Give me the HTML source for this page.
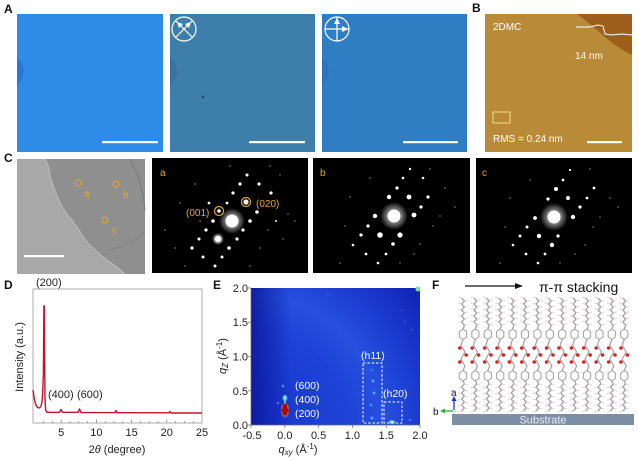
<!DOCTYPE html>
<html><head><meta charset="utf-8"><style>
html,body{margin:0;padding:0;background:#fff;}
svg{display:block;font-family:"Liberation Sans",Arial,sans-serif;}
</style></head><body>
<svg width="639" height="461" viewBox="0 0 639 461" xmlns="http://www.w3.org/2000/svg">
<defs>
<radialGradient id="glow"><stop offset="0" stop-color="#fff"/><stop offset="0.45" stop-color="#fff" stop-opacity="0.9"/><stop offset="1" stop-color="#fff" stop-opacity="0"/></radialGradient>
<radialGradient id="sglow"><stop offset="0" stop-color="#fff"/><stop offset="0.5" stop-color="#fff" stop-opacity="0.7"/><stop offset="1" stop-color="#fff" stop-opacity="0"/></radialGradient>
<radialGradient id="ebg" cx="251" cy="425" r="210" gradientUnits="userSpaceOnUse">
<stop offset="0" stop-color="#1834cc"/><stop offset="0.45" stop-color="#1e42d6"/><stop offset="0.62" stop-color="#2650de"/><stop offset="0.8" stop-color="#1b3bcf"/><stop offset="1" stop-color="#1226b8"/></radialGradient>
<linearGradient id="eleft" x1="0" x2="1" y1="0" y2="0"><stop offset="0" stop-color="#0a1496" stop-opacity="0.8"/><stop offset="1" stop-color="#0a1496" stop-opacity="0"/></linearGradient>
<radialGradient id="redspot"><stop offset="0" stop-color="#8a0000"/><stop offset="0.5" stop-color="#c01000"/><stop offset="0.8" stop-color="#ff8000" stop-opacity="0.6"/><stop offset="1" stop-color="#30c0ff" stop-opacity="0"/></radialGradient>
<radialGradient id="cyspot"><stop offset="0" stop-color="#ffe060"/><stop offset="0.5" stop-color="#60e0ff"/><stop offset="1" stop-color="#30a0ff" stop-opacity="0"/></radialGradient>
<radialGradient id="lbspot"><stop offset="0" stop-color="#a0f0ff"/><stop offset="0.5" stop-color="#4090ff" stop-opacity="0.7"/><stop offset="1" stop-color="#3070ff" stop-opacity="0"/></radialGradient>
<g id="mol">
<polyline points="-1.5,298 1.5,301 -1.5,304 1.5,307 -1.5,310 1.5,313 -1.5,316 1.5,319 -1.5,322 1.5,325 0,329" fill="none" stroke="#a2a2a2" stroke-width="1.3"/>
<path d="M-1.5,298l-3.5,-1M1.5,301l3.5,-1M-1.5,304l-3.5,-1M1.5,307l3.5,-1M-1.5,310l-3.5,-1M1.5,313l3.5,-1M-1.5,316l-3.5,-1M1.5,319l3.5,-1M-1.5,322l-3.5,-1M1.5,325l3.5,-1" stroke="#e2d6d6" stroke-width="1"/>
<polygon points="0,329 3.6,331.5 3.6,337 0,339.5 -3.6,337 -3.6,331.5" fill="none" stroke="#a8a8a8" stroke-width="1.1"/>
<polyline points="0,339.5 -2,345 2,352 -2,359 2,366 0,370.5" fill="none" stroke="#a2a2a2" stroke-width="1.2"/>
<circle cx="-3.2" cy="348" r="1.8" fill="#d42424"/>
<circle cx="3.2" cy="355" r="1.8" fill="#d42424"/>
<circle cx="-3.2" cy="362" r="1.8" fill="#d42424"/>
<polygon points="0,370.5 3.6,373 3.6,378.5 0,381 -3.6,378.5 -3.6,373" fill="none" stroke="#a8a8a8" stroke-width="1.1"/>
<polyline points="0,381 1.5,384 -1.5,387 1.5,390 -1.5,393 1.5,396 -1.5,399 1.5,402 -1.5,405 1.5,408 -1.5,411" fill="none" stroke="#a2a2a2" stroke-width="1.3"/>
<path d="M1.5,384l3.5,1M-1.5,387l-3.5,1M1.5,390l3.5,1M-1.5,393l-3.5,1M1.5,396l3.5,1M-1.5,399l-3.5,1M1.5,402l3.5,1M-1.5,405l-3.5,1M1.5,408l3.5,1M-1.5,411l-3.5,1" stroke="#e2d6d6" stroke-width="1"/>
</g>
</defs>

<!-- Panel labels -->
<g font-weight="bold" font-size="12" fill="#111">
<text x="4" y="13">A</text>
<text x="472" y="12">B</text>
<text x="4" y="162">C</text>
<text x="4" y="289">D</text>
<text x="213" y="289">E</text>
<text x="432" y="289">F</text>
</g>

<!-- Panel A -->
<rect x="17" y="14" width="146" height="138" fill="#2e8ce8"/>
<path d="M17,57 l5,6 l2,8 l-2,8 l-5,7z" fill="#2a76d6"/>
<rect x="102" y="141" width="56" height="2.2" fill="#fff"/>
<rect x="170" y="14" width="145" height="138" fill="#3e7eaa"/>
<path d="M170,57 l5,6 l2,8 l-2,8 l-5,7z" fill="#3a70a4"/>
<circle cx="203" cy="97" r="1.2" fill="#1e4a6a"/>
<rect x="249" y="141" width="56" height="2.2" fill="#fff"/>
<g stroke="#fff" stroke-width="1.2" fill="none">
<circle cx="184" cy="29" r="12"/>
<line x1="176" y1="21" x2="192" y2="37"/><line x1="192" y1="21" x2="176" y2="37"/>
</g>
<polygon points="177,22 183,24 179,28" fill="#fff"/><polygon points="191,22 185,24 189,28" fill="#fff"/>
<rect x="322" y="14" width="145" height="138" fill="#2f7ec4"/>
<path d="M322,57 l5,6 l2,8 l-2,8 l-5,7z" fill="#2b74bc"/>
<rect x="403" y="141" width="55" height="2.2" fill="#fff"/>
<g stroke="#fff" stroke-width="1.2" fill="none">
<circle cx="337" cy="29" r="12"/>
<line x1="337" y1="17" x2="337" y2="41"/><line x1="325" y1="29" x2="349" y2="29"/>
</g>
<polygon points="337,18 334,24 340,24" fill="#fff"/><polygon points="348,29 342,26 342,32" fill="#fff"/>

<!-- Panel B -->
<rect x="485" y="14" width="147" height="138" fill="#b98b38"/>
<path d="M577,14 L632,14 L632,55 Q618,48 606,38 Q592,25 577,14z" fill="#9c5f1c"/>
<polyline points="576,27 590,27 598,25 603,26 605,34 612,35 622,34 632,35" fill="none" stroke="#fff" stroke-width="1"/>
<g fill="#fff" font-size="10">
<text x="493" y="30">2DMC</text>
<text x="575" y="59">14 nm</text>
<text x="493" y="142">RMS = 0.24 nm</text>
</g>
<rect x="493" y="112" width="17" height="11" fill="none" stroke="#f3dc8a" stroke-width="1"/>
<rect x="587" y="141" width="35" height="2.2" fill="#fff"/>

<!-- Panel C TEM -->
<rect x="17" y="159" width="128" height="115" fill="#8f8f8f"/>
<path d="M17,159 L45,159 Q50,168 50,177 Q55,192 60,203 Q66,214 72,220 Q79,230 85,240 Q96,252 107,260 Q117,267 125,274 L17,274z" fill="#a8a8a8"/>
<path d="M45,159 Q50,168 50,177 Q55,192 60,203 Q66,214 72,220 Q79,230 85,240 Q96,252 107,260 Q117,267 125,274" fill="none" stroke="#b8b8b8" stroke-width="1.2"/>
<path d="M130,159 Q142,180 145,210" fill="none" stroke="#7a7a7a" stroke-width="1"/>
<path d="M110,250 Q130,245 145,232" fill="none" stroke="#808080" stroke-width="1"/>
<rect x="24" y="255" width="40" height="2.2" fill="#fff"/>
<g stroke="#e8a820" stroke-width="1" fill="none">
<circle cx="78" cy="183" r="3"/><circle cx="116" cy="184" r="3"/><circle cx="105" cy="220" r="3"/>
</g>
<g fill="#e8a820" font-size="10">
<text x="84" y="197">a</text><text x="123" y="198">b</text><text x="112" y="233">c</text>
</g>

<!-- Diffraction a -->
<rect x="152" y="158" width="156" height="115" fill="#000"/>
<g fill="#fff">
<circle cx="232" cy="221" r="13" fill="url(#glow)" opacity="0.6"/>
<circle cx="232" cy="221" r="6.5"/>
<circle cx="218" cy="239" r="6" fill="url(#sglow)"/><circle cx="218" cy="239" r="3"/>
<circle cx="246" cy="202" r="2.6"/><circle cx="219" cy="211" r="1.8"/>
<circle cx="247" cy="175" r="1.5"/><circle cx="240" cy="184" r="1.6"/><circle cx="259" cy="184" r="1.6"/>
<circle cx="233" cy="193" r="1.6"/><circle cx="271" cy="193" r="1.6"/>
<circle cx="209" cy="203" r="1.4"/><circle cx="227" cy="203" r="1.4"/>
<circle cx="257" cy="212" r="1.8"/><circle cx="213" cy="221" r="1.8"/><circle cx="250" cy="221" r="1.8"/>
<circle cx="206" cy="230" r="1.6"/><circle cx="243" cy="230" r="1.6"/>
<circle cx="237" cy="239" r="1.6"/><circle cx="199" cy="239" r="1.5"/>
<circle cx="192" cy="248" r="1.6"/><circle cx="229" cy="248" r="1.8"/>
<circle cx="203" cy="257" r="1.5"/><circle cx="222" cy="257" r="1.5"/><circle cx="215" cy="266" r="1.5"/>
<circle cx="276" cy="221" r="1"/>
<g opacity="0.3"><circle cx="180" cy="203" r="1"/><circle cx="195" cy="184" r="1"/><circle cx="280" cy="175" r="1"/><circle cx="288" cy="214" r="1"/><circle cx="268" cy="230" r="1"/><circle cx="260" cy="248" r="1"/><circle cx="250" cy="266" r="1"/><circle cx="175" cy="248" r="1"/><circle cx="185" cy="266" r="1"/><circle cx="295" cy="221" r="1"/><circle cx="165" cy="230" r="1"/><circle cx="270" cy="166" r="1"/><circle cx="230" cy="166" r="1"/><circle cx="200" cy="221" r="1"/><circle cx="283" cy="239" r="1"/></g>
</g>
<g stroke="#e8a820" stroke-width="1.2" fill="none"><circle cx="246" cy="202" r="4.5"/><circle cx="219" cy="211" r="4.5"/></g>
<g fill="#e8a820" font-size="10">
<text x="160" y="176">a</text>
<text x="186" y="216">(001)</text>
<text x="256" y="207">(020)</text>
</g>

<!-- Diffraction b -->
<rect x="313" y="158" width="157" height="115" fill="#000"/>
<g fill="#fff">
<circle cx="394" cy="216" r="14" fill="url(#glow)" opacity="0.6"/>
<circle cx="394" cy="216" r="6.5"/>
<circle cx="397" cy="188" r="1.6"/><circle cx="389" cy="197" r="2.2"/><circle cx="409" cy="197" r="2.4"/>
<circle cx="428" cy="197" r="1.6"/><circle cx="421" cy="207" r="1.6"/>
<circle cx="375" cy="216" r="2.2"/><circle cx="414" cy="215" r="2.4"/>
<circle cx="368" cy="226" r="1.6"/><circle cx="361" cy="235" r="1.6"/>
<circle cx="380" cy="235" r="2.8"/><circle cx="400" cy="235" r="2.6"/>
<circle cx="393" cy="244" r="1.8"/><circle cx="353" cy="245" r="1.3"/>
<circle cx="366" cy="254" r="1.4"/><circle cx="386" cy="254" r="1.4"/><circle cx="378" cy="263" r="1.3"/>
<circle cx="410" cy="169" r="1.2"/><circle cx="403" cy="178" r="1.3"/><circle cx="423" cy="178" r="1.3"/>
<g opacity="0.3"><circle cx="440" cy="216" r="1"/><circle cx="433" cy="226" r="1"/><circle cx="414" cy="254" r="1"/><circle cx="345" cy="226" r="1"/><circle cx="350" cy="197" r="1"/><circle cx="370" cy="178" r="1"/><circle cx="445" cy="188" r="1"/><circle cx="420" cy="244" r="1"/><circle cx="340" cy="263" r="1"/><circle cx="400" cy="263" r="1"/><circle cx="455" cy="207" r="1"/><circle cx="430" cy="169" r="1"/></g>
</g>
<text x="320" y="176" fill="#e8a820" font-size="10">b</text>

<!-- Diffraction c -->
<rect x="476" y="158" width="156" height="115" fill="#000"/>
<g fill="#fff">
<circle cx="554" cy="217" r="14" fill="url(#glow)" opacity="0.6"/>
<circle cx="554" cy="217" r="6.5"/>
<circle cx="563" cy="180" r="1.4"/><circle cx="594" cy="188" r="1.4"/>
<circle cx="556" cy="189" r="2"/><circle cx="548" cy="199" r="1.6"/><circle cx="568" cy="198" r="2"/>
<circle cx="587" cy="198" r="1.4"/><circle cx="580" cy="207" r="1.6"/>
<circle cx="535" cy="218" r="1.9"/><circle cx="573" cy="217" r="2.2"/>
<circle cx="527" cy="227" r="1.5"/><circle cx="520" cy="236" r="1.5"/>
<circle cx="539" cy="236" r="2.2"/><circle cx="558" cy="236" r="1.6"/>
<circle cx="552" cy="245" r="2.2"/><circle cx="513" cy="245" r="1.3"/>
<circle cx="526" cy="254" r="1.4"/><circle cx="545" cy="254" r="1.4"/><circle cx="538" cy="263" r="1.3"/>
<circle cx="570" cy="170" r="1.1"/>
<g opacity="0.3"><circle cx="600" cy="217" r="1"/><circle cx="593" cy="227" r="1"/><circle cx="575" cy="254" r="1"/><circle cx="505" cy="227" r="1"/><circle cx="510" cy="198" r="1"/><circle cx="530" cy="180" r="1"/><circle cx="610" cy="198" r="1"/><circle cx="585" cy="245" r="1"/><circle cx="500" cy="263" r="1"/><circle cx="560" cy="263" r="1"/><circle cx="618" cy="207" r="1"/><circle cx="590" cy="169" r="1"/></g>
</g>
<text x="482" y="176" fill="#e8a820" font-size="10">c</text>

<!-- Panel D -->
<rect x="33" y="289" width="169" height="134" fill="none" stroke="#9a9a9a" stroke-width="0.8"/>
<g stroke="#888" stroke-width="0.8">
<line x1="61.2" y1="423" x2="61.2" y2="419.5"/><line x1="96.4" y1="423" x2="96.4" y2="419.5"/><line x1="131.6" y1="423" x2="131.6" y2="419.5"/><line x1="166.8" y1="423" x2="166.8" y2="419.5"/>
<line x1="43.6" y1="423" x2="43.6" y2="421"/><line x1="52.4" y1="423" x2="52.4" y2="421"/><line x1="70" y1="423" x2="70" y2="421"/><line x1="78.8" y1="423" x2="78.8" y2="421"/><line x1="87.6" y1="423" x2="87.6" y2="421"/><line x1="105.2" y1="423" x2="105.2" y2="421"/><line x1="114" y1="423" x2="114" y2="421"/><line x1="122.8" y1="423" x2="122.8" y2="421"/><line x1="140.4" y1="423" x2="140.4" y2="421"/><line x1="149.2" y1="423" x2="149.2" y2="421"/><line x1="158" y1="423" x2="158" y2="421"/><line x1="175.6" y1="423" x2="175.6" y2="421"/><line x1="184.4" y1="423" x2="184.4" y2="421"/><line x1="193.2" y1="423" x2="193.2" y2="421"/>
</g>
<polyline fill="none" stroke="#c8102e" stroke-width="1.4" stroke-linejoin="round" points="33,390 34,397 35,402 36,405 37.5,407.5 39.5,408 41,406 42,402 42.7,392 43.1,380 43.4,376 43.6,345 43.9,306 44.3,306 44.6,350 45,398 45.6,410 47,412.3 59.5,412.3 61,409.5 62.5,412.3 78,412.3 79.5,409 81,412.5 115,412.6 116,410.5 117,412.7 169,412.8 170,411.5 171,413 202,413"/>
<g fill="#222" font-size="11" text-anchor="middle">
<text x="61.2" y="436">5</text><text x="96.4" y="436">10</text><text x="131.6" y="436">15</text><text x="166.8" y="436">20</text><text x="202" y="436">25</text>
<text x="117" y="453">2<tspan font-style="italic">θ</tspan> (degree)</text>
<text transform="translate(23,357) rotate(-90)">Intensity (a.u.)</text>
</g>
<g fill="#222" font-size="11">
<text x="36" y="286">(200)</text>
<text x="48" y="398">(400)</text>
<text x="77" y="398">(600)</text>
</g>

<!-- Panel E -->
<rect x="251" y="288" width="169" height="137" fill="url(#ebg)"/>
<rect x="251" y="288" width="40" height="137" fill="url(#eleft)"/>
<circle cx="418" cy="289" r="2.5" fill="#80e080"/>
<g fill="#40a0ff" opacity="0.6"><circle cx="328" cy="295" r="0.9"/><circle cx="405" cy="322" r="0.9"/><circle cx="412" cy="330" r="0.9"/><circle cx="402" cy="310" r="0.7"/></g>
<ellipse cx="285" cy="410" rx="4.5" ry="8" fill="url(#redspot)"/>
<rect x="283.5" y="403" width="3" height="12" fill="#a00000"/>
<rect x="281.5" y="409" width="7" height="3" fill="#b00000"/>
<ellipse cx="285" cy="398" rx="3" ry="4" fill="url(#cyspot)"/>
<rect x="284.3" y="398" width="1.4" height="6" fill="#60e0ff"/>
<circle cx="283" cy="386" r="2" fill="url(#lbspot)"/>
<circle cx="278" cy="403" r="1.5" fill="url(#lbspot)"/>
<circle cx="373" cy="381" r="2.5" fill="url(#lbspot)"/>
<circle cx="374" cy="393" r="2.5" fill="url(#lbspot)"/>
<circle cx="371" cy="405" r="2" fill="url(#lbspot)"/>
<circle cx="372" cy="418" r="2.5" fill="url(#lbspot)"/>
<circle cx="372" cy="370" r="1.5" fill="url(#lbspot)"/>
<ellipse cx="392" cy="422" rx="4" ry="2.5" fill="url(#cyspot)"/>
<circle cx="410" cy="420" r="1.5" fill="url(#lbspot)"/>
<g fill="none" stroke="#fff" stroke-width="1" stroke-dasharray="2.5,1.8">
<rect x="363" y="363" width="19" height="60"/>
<rect x="384" y="402" width="18" height="21"/>
</g>
<g fill="#fff" font-size="10.5">
<text x="295" y="389">(600)</text>
<text x="295" y="403">(400)</text>
<text x="295" y="417">(200)</text>
<text x="361" y="359">(h11)</text>
<text x="383" y="397">(h20)</text>
</g>
<g stroke="#666" stroke-width="0.7">
<line x1="251" y1="288" x2="251" y2="425"/>
<line x1="251" y1="288" x2="248" y2="288"/><line x1="251" y1="322.3" x2="248" y2="322.3"/><line x1="251" y1="356.5" x2="248" y2="356.5"/><line x1="251" y1="390.8" x2="248" y2="390.8"/><line x1="251" y1="425" x2="248" y2="425"/>
<line x1="251" y1="425" x2="420" y2="425"/>
<line x1="251" y1="425" x2="251" y2="428"/><line x1="284.8" y1="425" x2="284.8" y2="428"/><line x1="318.6" y1="425" x2="318.6" y2="428"/><line x1="352.4" y1="425" x2="352.4" y2="428"/><line x1="386.2" y1="425" x2="386.2" y2="428"/><line x1="420" y1="425" x2="420" y2="428"/>
</g>
<g fill="#222" font-size="11">
<g text-anchor="end">
<text x="248" y="292">2.0</text><text x="248" y="326">1.5</text><text x="248" y="360.5">1.0</text><text x="248" y="395">0.5</text><text x="248" y="429">0.0</text>
</g>
<g text-anchor="middle">
<text x="252" y="439">-0.5</text><text x="284.8" y="439">0.0</text><text x="318.6" y="439">0.5</text><text x="352.4" y="439">1.0</text><text x="386.2" y="439">1.5</text><text x="420" y="439">2.0</text>
<text x="298" y="453"><tspan font-style="italic">q</tspan><tspan font-style="italic" font-size="8" dy="2">xy</tspan><tspan dy="-2"> (Å</tspan><tspan font-size="8" dy="-4">-1</tspan><tspan dy="4">)</tspan></text>
<text transform="translate(226,356) rotate(-90)"><tspan font-style="italic">q</tspan><tspan font-style="italic" font-size="8" dy="2">Z</tspan><tspan dy="-2"> (Å</tspan><tspan font-size="8" dy="-4">-1</tspan><tspan dy="4">)</tspan></text>
</g>
</g>

<!-- Panel F -->
<line x1="465" y1="286" x2="517" y2="286" stroke="#111" stroke-width="1.3"/>
<polygon points="523,286 515,283 515,289" fill="#111"/>
<text x="539" y="292" font-size="14" fill="#111">π-π stacking</text>
<use href="#mol" x="463"/><use href="#mol" x="475.4"/><use href="#mol" x="487.8"/><use href="#mol" x="500.2"/><use href="#mol" x="512.6"/><use href="#mol" x="525"/><use href="#mol" x="537.4"/><use href="#mol" x="549.8"/><use href="#mol" x="562.2"/><use href="#mol" x="574.6"/><use href="#mol" x="587"/><use href="#mol" x="599.4"/><use href="#mol" x="611.8"/><use href="#mol" x="624.2"/>
<rect x="452" y="414" width="182" height="11" fill="#7d8ea6"/>
<text x="543" y="423.5" font-size="11" fill="#e8eef6" text-anchor="middle">Substrate</text>
<line x1="454" y1="411" x2="454" y2="400" stroke="#1030d0" stroke-width="1.3"/>
<polygon points="454,396 451.5,401 456.5,401" fill="#1030d0"/>
<line x1="454" y1="411" x2="444" y2="411" stroke="#30b030" stroke-width="1.3"/>
<polygon points="440,411 445,408.5 445,413.5" fill="#30b030"/>
<circle cx="454" cy="411" r="1.3" fill="#fff" stroke="#888" stroke-width="0.5"/>
<text x="451" y="396" font-size="10" fill="#111">a</text>
<text x="433" y="415" font-size="10" fill="#111">b</text>
</svg>
</body></html>
